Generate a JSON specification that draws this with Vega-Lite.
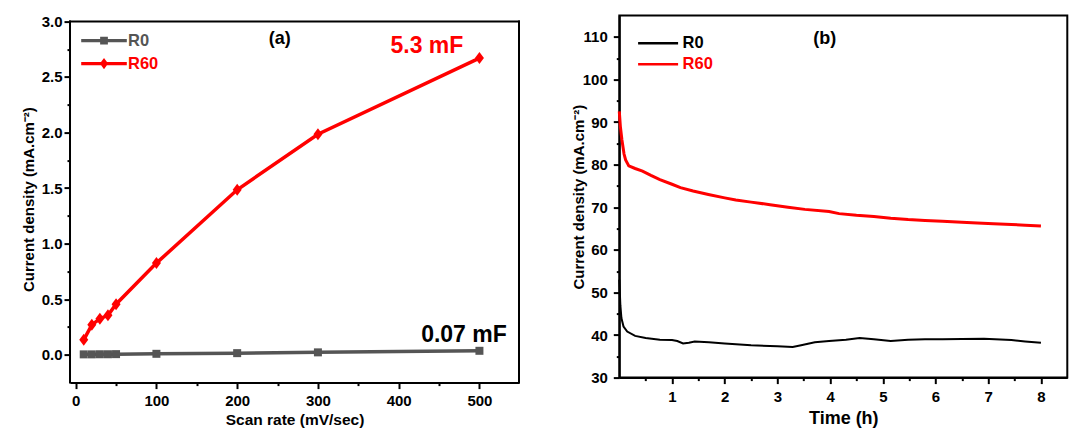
{
  "$schema": "https://vega.github.io/schema/vega-lite/v6.json",
  "background": "white",
  "padding": {"left": 21, "top": 13.6, "right": 2, "bottom": 0},
  "datasets": {
    "a": [
      {"series": "R0", "rate": 10, "j": 0.004},
      {"series": "R0", "rate": 20, "j": 0.004},
      {"series": "R0", "rate": 30, "j": 0.005},
      {"series": "R0", "rate": 40, "j": 0.005},
      {"series": "R0", "rate": 50, "j": 0.006},
      {"series": "R0", "rate": 100, "j": 0.009},
      {"series": "R0", "rate": 200, "j": 0.015},
      {"series": "R0", "rate": 300, "j": 0.022},
      {"series": "R0", "rate": 500, "j": 0.036},
      {"series": "R60", "rate": 10, "j": 0.135},
      {"series": "R60", "rate": 20, "j": 0.27},
      {"series": "R60", "rate": 30, "j": 0.325},
      {"series": "R60", "rate": 40, "j": 0.355},
      {"series": "R60", "rate": 50, "j": 0.455},
      {"series": "R60", "rate": 100, "j": 0.825},
      {"series": "R60", "rate": 200, "j": 1.485},
      {"series": "R60", "rate": 300, "j": 1.985},
      {"series": "R60", "rate": 500, "j": 2.67}
    ],
    "b": [
      {"series": "R0", "t": 0, "v": 53},
      {"series": "R0", "t": 0.02, "v": 47},
      {"series": "R0", "t": 0.04, "v": 44},
      {"series": "R0", "t": 0.08, "v": 42},
      {"series": "R0", "t": 0.15, "v": 40.8},
      {"series": "R0", "t": 0.3, "v": 39.8},
      {"series": "R0", "t": 0.5, "v": 39.3},
      {"series": "R0", "t": 0.77, "v": 38.9},
      {"series": "R0", "t": 1.0, "v": 38.85},
      {"series": "R0", "t": 1.1, "v": 38.6},
      {"series": "R0", "t": 1.21, "v": 38.0},
      {"series": "R0", "t": 1.32, "v": 38.2},
      {"series": "R0", "t": 1.43, "v": 38.45},
      {"series": "R0", "t": 1.7, "v": 38.3},
      {"series": "R0", "t": 2.0, "v": 38.0},
      {"series": "R0", "t": 2.5, "v": 37.6},
      {"series": "R0", "t": 3.0, "v": 37.35},
      {"series": "R0", "t": 3.29, "v": 37.2},
      {"series": "R0", "t": 3.45, "v": 37.6},
      {"series": "R0", "t": 3.71, "v": 38.3},
      {"series": "R0", "t": 3.98, "v": 38.6},
      {"series": "R0", "t": 4.3, "v": 38.9},
      {"series": "R0", "t": 4.56, "v": 39.3},
      {"series": "R0", "t": 4.83, "v": 39.0},
      {"series": "R0", "t": 5.15, "v": 38.6},
      {"series": "R0", "t": 5.48, "v": 38.9},
      {"series": "R0", "t": 5.8, "v": 39.0},
      {"series": "R0", "t": 6.13, "v": 39.0},
      {"series": "R0", "t": 6.5, "v": 39.05},
      {"series": "R0", "t": 6.92, "v": 39.1},
      {"series": "R0", "t": 7.44, "v": 38.8},
      {"series": "R0", "t": 7.7, "v": 38.5},
      {"series": "R0", "t": 8.0, "v": 38.2},
      {"series": "R60", "t": 0, "v": 92.5},
      {"series": "R60", "t": 0.02, "v": 89},
      {"series": "R60", "t": 0.05, "v": 85.8},
      {"series": "R60", "t": 0.09, "v": 82.5},
      {"series": "R60", "t": 0.12, "v": 81.1},
      {"series": "R60", "t": 0.18, "v": 79.7},
      {"series": "R60", "t": 0.3, "v": 79.1},
      {"series": "R60", "t": 0.44, "v": 78.5},
      {"series": "R60", "t": 0.6, "v": 77.5},
      {"series": "R60", "t": 0.77, "v": 76.5},
      {"series": "R60", "t": 1.0, "v": 75.4},
      {"series": "R60", "t": 1.16, "v": 74.6},
      {"series": "R60", "t": 1.4, "v": 73.8},
      {"series": "R60", "t": 1.69, "v": 73.0},
      {"series": "R60", "t": 2.0, "v": 72.2},
      {"series": "R60", "t": 2.21, "v": 71.7},
      {"series": "R60", "t": 2.5, "v": 71.2},
      {"series": "R60", "t": 2.86, "v": 70.6},
      {"series": "R60", "t": 3.2, "v": 70.0},
      {"series": "R60", "t": 3.52, "v": 69.5},
      {"series": "R60", "t": 3.98, "v": 69.0},
      {"series": "R60", "t": 4.17, "v": 68.5},
      {"series": "R60", "t": 4.5, "v": 68.1},
      {"series": "R60", "t": 4.83, "v": 67.8},
      {"series": "R60", "t": 5.15, "v": 67.4},
      {"series": "R60", "t": 5.48, "v": 67.1},
      {"series": "R60", "t": 5.8, "v": 66.9},
      {"series": "R60", "t": 6.13, "v": 66.7},
      {"series": "R60", "t": 6.5, "v": 66.5},
      {"series": "R60", "t": 6.79, "v": 66.3},
      {"series": "R60", "t": 7.1, "v": 66.1},
      {"series": "R60", "t": 7.44, "v": 65.95},
      {"series": "R60", "t": 7.7, "v": 65.8},
      {"series": "R60", "t": 8.0, "v": 65.6}
    ]
  },
  "spacing": 48.3,
  "hconcat": [
    {
      "width": 449,
      "height": 367,
      "view": {"stroke": null},
      "data": {"name": "a"},
      "resolve": {"axis": {"x": "independent", "y": "independent"}},
      "layer": [
        {
          "mark": {"type": "line", "strokeWidth": 3.5},
          "encoding": {
            "x": {"field": "rate", "type": "quantitative",
              "scale": {"domain": [-7, 549], "nice": false, "zero": false},
              "axis": {"orient": "bottom", "title": "Scan rate (mV/sec)", "titleFontSize": 15.5,
                "values": [0, 100, 200, 300, 400, 500], "format": "d", "tickSize": 6,
                "labelPadding": 5, "titlePadding": 4}},
            "y": {"field": "j", "type": "quantitative",
              "scale": {"domain": [-0.25, 3.052], "nice": false, "zero": false},
              "axis": {"orient": "left", "title": "Current density (mA.cm⁻²)", "titleFontSize": 15,
                "values": [0, 0.5, 1, 1.5, 2, 2.5, 3], "format": ".1f", "tickSize": 6, "domain": false,
                "labelPadding": 2, "titlePadding": 5}},
            "color": {"field": "series", "type": "nominal",
              "scale": {"domain": ["R0", "R60"], "range": ["#555555", "#ff0000"]},
              "legend": {"orient": "none", "legendX": 11, "legendY": 13.75, "title": null, "padding": 0,
                "symbolType": "M-1,-0.07H1V0.07H-1Z M-0.17,-0.17H0.17V0.17H-0.17Z",
                "symbolSize": 2080, "symbolStrokeWidth": 0,
                "labelFont": "Liberation Sans", "labelFontSize": 16.5, "labelFontWeight": "bold",
                "labelOffset": 1, "clipHeight": 22.5, "rowPadding": 0,
                "encode": {
                  "symbols": {"update": {
                    "shape": {"signal": "datum.value === 'R60' ? 'M-1,-0.07H1V0.07H-1Z M0,-0.25L0.18,0L0,0.25L-0.18,0Z' : 'M-1,-0.07H1V0.07H-1Z M-0.17,-0.17H0.17V0.17H-0.17Z'"},
                    "fill": {"signal": "datum.value === 'R60' ? '#ff0000' : '#555555'"},
                    "fillOpacity": {"value": 1},
                    "stroke": {"value": "transparent"},
                    "strokeWidth": {"value": 0},
                    "opacity": {"value": 1}}},
                  "labels": {"update": {"fill": {"signal": "datum.value === 'R60' ? '#ff0000' : '#555555'"}}}}}}
          }
        },
        {
          "transform": [{"filter": "datum.series === 'R0'"}],
          "mark": {"type": "point", "shape": "square", "filled": true, "size": 64, "color": "#555555", "opacity": 1},
          "encoding": {
            "x": {"field": "rate", "type": "quantitative",
              "axis": {"orient": "bottom", "values": [50, 150, 250, 350, 450], "tickSize": 3, "labels": false, "domain": false, "title": null}},
            "y": {"field": "j", "type": "quantitative",
              "axis": {"orient": "left", "values": [0.25, 0.75, 1.25, 1.75, 2.25, 2.75], "tickSize": 3, "labels": false, "domain": false, "title": null}}
          }
        },
        {
          "transform": [{"filter": "datum.series === 'R60'"}],
          "mark": {"type": "point", "shape": "M0,-1L0.75,0L0,1L-0.75,0Z", "filled": true, "size": 144, "color": "#ff0000", "opacity": 1},
          "encoding": {
            "x": {"field": "rate", "type": "quantitative", "axis": null},
            "y": {"field": "j", "type": "quantitative", "axis": null}
          }
        },
        {
          "data": {"values": [{}]},
          "mark": {"type": "rule", "color": "black", "strokeWidth": 2, "strokeCap": "square"},
          "encoding": {
            "x": {"datum": -7, "type": "quantitative", "axis": null},
            "y": {"datum": -0.25, "type": "quantitative", "axis": null},
            "y2": {"datum": 3.0}
          }
        },
        {
          "data": {"values": [{}]},
          "mark": {"type": "rule", "color": "black", "strokeWidth": 2, "strokeCap": "square"},
          "encoding": {
            "x": {"datum": 549, "type": "quantitative", "axis": null},
            "y": {"datum": -0.25, "type": "quantitative", "axis": null},
            "y2": {"datum": 3.0}
          }
        },
        {
          "data": {"values": [{}]},
          "mark": {"type": "rule", "color": "black", "strokeWidth": 2, "strokeCap": "square"},
          "encoding": {
            "x": {"datum": -7, "type": "quantitative", "axis": null},
            "x2": {"datum": 549},
            "y": {"datum": 3.0, "type": "quantitative", "axis": null}
          }
        },
        {
          "data": {"values": [{}]},
          "mark": {"type": "text", "text": "(a)", "font": "Liberation Sans", "fontWeight": "bold", "fontSize": 18, "color": "black", "align": "center", "baseline": "middle"},
          "encoding": {
            "x": {"datum": 252.6, "type": "quantitative", "axis": null},
            "y": {"datum": 2.843, "type": "quantitative", "axis": null}
          }
        },
        {
          "data": {"values": [{}]},
          "mark": {"type": "text", "text": "5.3 mF", "font": "Liberation Sans", "fontWeight": "bold", "fontSize": 23, "color": "#ff0000", "align": "center", "baseline": "middle"},
          "encoding": {
            "x": {"datum": 435, "type": "quantitative", "axis": null},
            "y": {"datum": 2.774, "type": "quantitative", "axis": null}
          }
        },
        {
          "data": {"values": [{}]},
          "mark": {"type": "text", "text": "0.07 mF", "font": "Liberation Sans", "fontWeight": "bold", "fontSize": 23, "color": "black", "align": "center", "baseline": "middle"},
          "encoding": {
            "x": {"datum": 480.8, "type": "quantitative", "axis": null},
            "y": {"datum": 0.177, "type": "quantitative", "axis": null}
          }
        }
      ]
    },
    {
      "width": 448,
      "height": 362,
      "view": {"stroke": "black", "strokeWidth": 2},
      "data": {"name": "b"},
      "resolve": {"axis": {"x": "independent", "y": "independent"}},
      "layer": [
        {
          "transform": [{"filter": "datum.series === 'R0'"}],
          "mark": {"type": "line", "strokeWidth": 2},
          "encoding": {
            "x": {"field": "t", "type": "quantitative",
              "scale": {"domain": [0, 8.5], "nice": false, "zero": false},
              "axis": {"orient": "bottom", "title": "Time (h)", "titleFontSize": 18,
                "values": [1, 2, 3, 4, 5, 6, 7, 8], "format": "d", "tickSize": 6,
                "labelPadding": 5.5, "titlePadding": 5.5}},
            "y": {"field": "v", "type": "quantitative",
              "scale": {"domain": [30, 115], "nice": false, "zero": false},
              "axis": {"orient": "left", "title": "Current density (mA.cm⁻²)", "titleFontSize": 15,
                "values": [30, 40, 50, 60, 70, 80, 90, 100, 110], "format": "d", "tickSize": 6,
                "labelPadding": 6, "titlePadding": -4}},
            "color": {"field": "series", "type": "nominal",
              "scale": {"domain": ["R0", "R60"], "range": ["#000000", "#ff0000"]},
              "legend": {"orient": "none", "legendX": 17.3, "legendY": 17.1, "title": null, "padding": 0,
                "symbolType": "stroke", "symbolSize": 1600, "symbolStrokeWidth": 2.5,
                "labelFont": "Liberation Sans", "labelFontSize": 16.5, "labelFontWeight": "bold",
                "labelOffset": 3, "clipHeight": 21, "rowPadding": 0,
                "encode": {"labels": {"update": {"fill": {"signal": "datum.value === 'R60' ? '#ff0000' : '#000000'"}}}}}}
          }
        },
        {
          "transform": [{"filter": "datum.series === 'R60'"}],
          "mark": {"type": "line", "strokeWidth": 3},
          "encoding": {
            "x": {"field": "t", "type": "quantitative",
              "axis": {"orient": "bottom", "values": [0.5, 1.5, 2.5, 3.5, 4.5, 5.5, 6.5, 7.5], "tickSize": 3, "labels": false, "domain": false, "title": null}},
            "y": {"field": "v", "type": "quantitative",
              "axis": {"orient": "left", "values": [35, 45, 55, 65, 75, 85, 95, 105], "tickSize": 3, "labels": false, "domain": false, "title": null}},
            "color": {"field": "series", "type": "nominal", "legend": null}
          }
        },
        {
          "data": {"values": [{}]},
          "mark": {"type": "text", "text": "(b)", "font": "Liberation Sans", "fontWeight": "bold", "fontSize": 18, "color": "black", "align": "center", "baseline": "middle"},
          "encoding": {
            "x": {"datum": 3.9, "type": "quantitative", "axis": null},
            "y": {"datum": 109.6, "type": "quantitative", "axis": null}
          }
        }
      ]
    }
  ],
  "resolve": {
    "scale": {"color": "independent"},
    "legend": {"color": "independent"}
  },
  "config": {
    "font": "Liberation Sans",
    "view": {"stroke": "black", "strokeWidth": 2},
    "axis": {
      "labelFont": "Liberation Sans", "labelFontWeight": "bold", "labelFontSize": 15, "labelColor": "black",
      "titleFont": "Liberation Sans", "titleFontWeight": "bold", "titleFontSize": 14, "titleColor": "black",
      "domainColor": "black", "domainWidth": 2, "tickColor": "black", "tickWidth": 2,
      "grid": false, "labelOverlap": false, "labelFlush": false
    }
  }
}
